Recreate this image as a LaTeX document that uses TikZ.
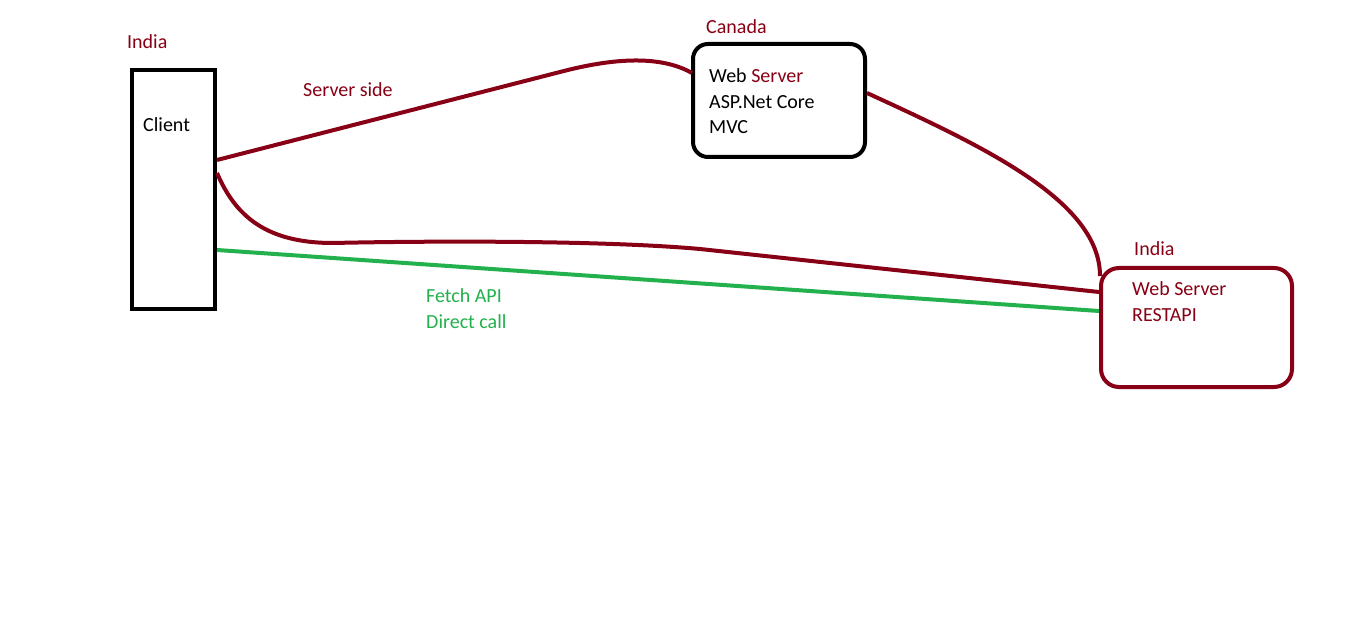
\documentclass[tikz,border=0pt]{standalone}
\usepackage{fontspec}
\setmainfont{Carlito}
\usetikzlibrary{calc}
\definecolor{dred}{RGB}{136,0,21}
\definecolor{pgreen}{RGB}{34,177,76}
\begin{document}
\begin{tikzpicture}[x=1pt,y=-1pt,
  lbl/.style={inner sep=0pt,anchor=base west,font=\fontsize{20}{24}\selectfont},
  boxstyle/.style={draw,line width=4pt,inner sep=0pt},
  wire/.style={line width=4pt,dred},
  gwire/.style={line width=4pt,pgreen}]
\useasboundingbox[fill=white] (0,0) rectangle (1360,628);
% boxes
\node[boxstyle,black,minimum width=83pt,minimum height=239pt] (client) at (173.5,189.5) {};
\node[boxstyle,black,rounded corners=15pt,minimum width=172pt,minimum height=113pt] (canada) at (779,100.5) {};
\node[boxstyle,dred,rounded corners=18pt,minimum width=191pt,minimum height=119pt] (india) at (1196.5,327.5) {};
% labels
\node[lbl,dred] (lindia1) at (127,49) {India};
\node[lbl,black] (lclient) at (143,132) {Client};
\node[lbl,dred] (lserver) at (303,97) {Server side};
\node[lbl,dred] (lcanada) at (706,34) {Canada};
\node[lbl,black] (lweb1) at (709,83) {Web \textcolor{dred}{Server}};
\node[lbl,black] (lasp) at (709,109) {ASP.Net Core};
\node[lbl,black] (lmvc) at (709,134) {MVC};
\node[lbl,dred] (lindia2) at (1134,256) {India};
\node[lbl,dred] (lweb2) at (1132,296) {Web Server};
\node[lbl,dred] (lrest) at (1132,321) {RESTAPI};
\node[lbl,pgreen] (lfetch) at (426,303) {Fetch API};
\node[lbl,pgreen] (ldirect) at (426,328) {Direct call};
% connectors
\draw[wire] ($(client.north east)+(0,92)$) -- (560,72)
  .. controls (600,61.5) and (655,52) .. ($(canada.north west)+(1,31)$);
\draw[wire] ($(canada.north east)+(0,51)$)
  .. controls (980,145) and (1100,200) .. ($(india.north west)+(1,10)$);
\draw[wire] ($(client.north east)+(0,105)$)
  .. controls (235,215) and (265,243) .. (333,243)
  .. controls (420,241) and (600,240) .. (700,249)
  -- ($(india.north west)+(0,26)$);
\draw[gwire] ($(client.north east)+(0,182)$) -- ($(india.north west)+(0,45)$);
\end{tikzpicture}
\end{document}
